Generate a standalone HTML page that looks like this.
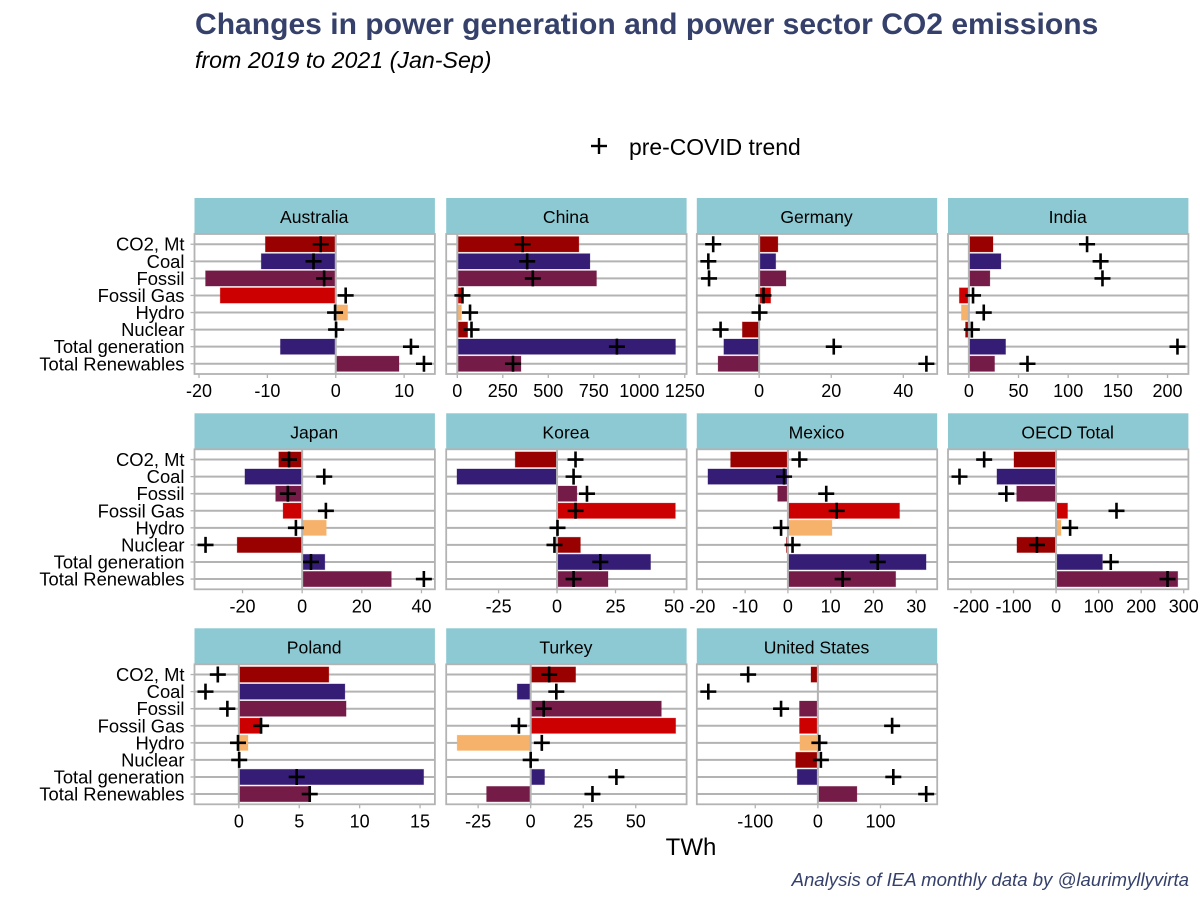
<!DOCTYPE html>
<html lang="en">
<head>
<meta charset="utf-8">
<title>Changes in power generation and power sector CO2 emissions</title>
<style>
html,body{margin:0;padding:0;background:#fff;}
svg{display:block;font-family:"Liberation Sans",Arial,sans-serif;}
</style>
</head>
<body>
<svg id="chart" xmlns="http://www.w3.org/2000/svg" width="1200" height="900" viewBox="0 0 1200 900">
  <rect x="0" y="0" width="1200" height="900" fill="#ffffff"/>
  <text x="195" y="34" font-size="30.05" font-weight="700" fill="#35416b">Changes in power generation and power sector CO2 emissions</text>
  <text x="195" y="68" font-size="23.2" font-style="italic" fill="#000000">from 2019 to 2021 (Jan-Sep)</text>
  <g>
    <line x1="591" y1="146" x2="607" y2="146" stroke="#000" stroke-width="2.4"/>
    <line x1="599" y1="138" x2="599" y2="154" stroke="#000" stroke-width="2.4"/>
    <text x="629" y="155" font-size="22.9" fill="#000000">pre-COVID trend</text>
  </g>
  <g id="panels"></g>
  <text x="691" y="855" font-size="24" text-anchor="middle" fill="#000000">TWh</text>
  <text x="1189" y="886" font-size="18.6" font-style="italic" text-anchor="end" fill="#35416b">Analysis of IEA monthly data by @laurimyllyvirta</text>
</svg>
<script>
const categories = ["CO2, Mt", "Coal", "Fossil", "Fossil Gas", "Hydro", "Nuclear", "Total generation", "Total Renewables"];
const barColors = ["#990000", "#351c75", "#741b47", "#cc0000", "#f6b26b", "#990000", "#351c75", "#741b47"];
const countries = ["Australia", "China", "Germany", "India", "Japan", "Korea", "Mexico", "OECD Total", "Poland", "Turkey", "United States"];

const australiaBars = [-10.3, -10.9, -19.05, -16.9, 1.74, 0, -8.1, 9.25];
const australiaTrend = [-2.2, -3.25, -1.7, 1.45, -0.1, 0.05, 11, 12.9];
const australiaTicks = [-20, -10, 0, 10];
const australiaLimits = [-20.66, 14.5];

const chinaBars = [668, 729, 765, 34, 23, 57, 1199, 350];
const chinaTrend = [359, 384, 415, 28, 70, 78, 877, 306];
const chinaTicks = [0, 250, 500, 750, 1000, 1250];
const chinaLimits = [-61, 1260];

const germanyBars = [5.2, 4.6, 7.44, 3.2, 0, -4.67, -9.8, -11.4];
const germanyTrend = [-12.75, -14.1, -13.9, 1.2, 0.1, -10.7, 20.7, 46.4];
const germanyTicks = [0, 20, 40];
const germanyLimits = [-17.3, 49.4];

const indiaBars = [24.3, 32.3, 21.2, -9.6, -7.6, -3.4, 37, 25.9];
const indiaTrend = [119, 132.6, 134.5, 4.2, 15, 3, 210, 59];
const indiaTicks = [0, 50, 100, 150, 200];
const indiaLimits = [-21, 221];

const japanBars = [-7.85, -19.2, -8.9, -6.4, 8.1, -21.8, 7.6, 29.9];
const japanTrend = [-4.4, 7.4, -4.8, 7.95, -2.1, -32.4, 2.95, 40.8];
const japanTicks = [-20, 0, 20, 40];
const japanLimits = [-36.1, 44.5];

const koreaBars = [-17.9, -42.8, 8.5, 50.6, 0, 10, 40, 21.8];
const koreaTrend = [7.9, 7.07, 12.8, 7.9, 0.2, -1.1, 18.5, 7.07];
const koreaTicks = [-25, 0, 25, 50];
const koreaLimits = [-47.4, 55.4];

const mexicoBars = [-13.4, -18.7, -2.4, 26.1, 10.3, -0.35, 32.3, 25.2];
const mexicoTrend = [2.7, -0.9, 8.96, 11.4, -1.6, 1.08, 21, 12.8];
const mexicoTicks = [-20, -10, 0, 10, 20, 30];
const mexicoLimits = [-21.3, 34.9];

const oecdBars = [-99, -139, -92.6, 27, 11.7, -92, 109, 286];
const oecdTrend = [-169, -227, -117, 142, 33, -45, 128.5, 262];
const oecdTicks = [-200, -100, 0, 100, 200, 300];
const oecdLimits = [-254, 311];

const polandBars = [7.45, 8.78, 8.88, 1.77, 0.76, 0, 15.3, 5.77];
const polandTrend = [-1.74, -2.76, -0.95, 1.84, -0.07, 0.03, 4.79, 5.87];
const polandTicks = [0, 5, 10, 15];
const polandLimits = [-3.67, 16.23];

const turkeyBars = [21.4, -6.4, 62.2, 69, -35, 0, 6.6, -21];
const turkeyTrend = [8.8, 12.2, 6.2, -5.6, 5.3, 0, 40.8, 29.4];
const turkeyTicks = [-25, 0, 25, 50];
const turkeyLimits = [-40.2, 74.2];

const usBars = [-11, 0, -29.4, -29.4, -28.8, -35.5, -33, 62.4];
const usTrend = [-111.4, -175, -58.8, 118.6, 2.4, 4.8, 120.5, 173];
const usTicks = [-100, 0, 100];
const usLimits = [-193.4, 190.6];

const allBars = [australiaBars, chinaBars, germanyBars, indiaBars, japanBars, koreaBars, mexicoBars, oecdBars, polandBars, turkeyBars, usBars];
const allTrend = [australiaTrend, chinaTrend, germanyTrend, indiaTrend, japanTrend, koreaTrend, mexicoTrend, oecdTrend, polandTrend, turkeyTrend, usTrend];
const allTicks = [australiaTicks, chinaTicks, germanyTicks, indiaTicks, japanTicks, koreaTicks, mexicoTicks, oecdTicks, polandTicks, turkeyTicks, usTicks];
const allLimits = [australiaLimits, chinaLimits, germanyLimits, indiaLimits, japanLimits, koreaLimits, mexicoLimits, oecdLimits, polandLimits, turkeyLimits, usLimits];

const SVG_NS = "http://www.w3.org/2000/svg";
const GRAY = "#b3b3b3";
const COLUMN_LEFT = [194.5, 446.2, 696.8, 948];
const PANEL_W = 240.4;
const ROW_TOP = [198, 413.3, 628.3];
const STRIP_H = 36;
const PANEL_H = 140;
const root = document.getElementById("panels");

function slug(s) {
  return s.toLowerCase().replace(/[^a-z0-9]+/g, "-").replace(/^-|-$/g, "");
}
function draw(tag, attrs, parent) {
  const el = document.createElementNS(SVG_NS, tag);
  for (const k in attrs) el.setAttribute(k, attrs[k]);
  
  parent.appendChild(el);
  return el;
}

countries.forEach(function (country, c) {
  const col = c % 4;
  const row = Math.floor(c / 4);
  const left = COLUMN_LEFT[col];
  const stripTop = ROW_TOP[row];
  const top = stripTop + STRIP_H;
  const bottom = top + PANEL_H;
  const limits = allLimits[c];
  const xScale = function (v) { return left + (v - limits[0]) / (limits[1] - limits[0]) * PANEL_W; };
  const step = PANEL_H / 8.2;
  const yScale = function (i) { return top + (0.6 + i) * step; };
  const key = slug(country);

  const g = draw("g", {}, root);
  

  const strip = draw("rect", { x: left, y: stripTop, width: PANEL_W, height: STRIP_H, fill: "#8dc9d2" }, g);
  
  const stripText = draw("text", { x: left + PANEL_W / 2 - 0.5, y: stripTop + 25, "font-size": 17.6, "text-anchor": "middle", fill: "#000" }, g);
  
  stripText.textContent = country;

  categories.forEach(function (cat, i) {
    const grid = draw("line", { x1: left, x2: left + PANEL_W, y1: yScale(i), y2: yScale(i), stroke: GRAY, "stroke-width": 2 }, g);
    
    if (col === 0) {
      const tick = draw("line", { x1: left - 4, x2: left, y1: yScale(i), y2: yScale(i), stroke: GRAY, "stroke-width": 1.3 }, g);
      
      const label = draw("text", { x: left - 10, y: yScale(i) + 6.5, "font-size": 18.4, "text-anchor": "end", fill: "#000" }, g);
      
      label.textContent = cat;
    }
  });

  allBars[c].forEach(function (v, i) {
    const x0 = xScale(Math.min(v, 0));
    const x1 = xScale(Math.max(v, 0));
    const bar = draw("rect", { x: x0, y: yScale(i) - step * 0.45, width: x1 - x0, height: step * 0.9, fill: barColors[i], stroke: barColors[i], "stroke-opacity": 0.3, "stroke-width": 0.8 }, g);
    
  });

  const zero = draw("line", { x1: xScale(0), x2: xScale(0), y1: top, y2: bottom, stroke: GRAY, "stroke-width": 2 }, g);
  

  allTrend[c].forEach(function (v, i) {
    const px = xScale(v);
    const py = yScale(i);
    const mark = draw("path", { d: "M" + (px - 8) + " " + py + "H" + (px + 8) + "M" + px + " " + (py - 8) + "V" + (py + 8), stroke: "#000", "stroke-width": 2.6, fill: "none" }, g);
    
  });

  const border = draw("rect", { x: left, y: top, width: PANEL_W, height: PANEL_H, fill: "none", stroke: GRAY, "stroke-width": 1.8 }, g);
  

  allTicks[c].forEach(function (t) {
    const tx = xScale(t);
    const tick = draw("line", { x1: tx, x2: tx, y1: bottom, y2: bottom + 4, stroke: GRAY, "stroke-width": 1.3 }, g);
    
    const label = draw("text", { x: tx, y: bottom + 23, "font-size": 18, "text-anchor": "middle", fill: "#000" }, g);
    
    label.textContent = String(t);
  });
});
</script>
</body>
</html>
